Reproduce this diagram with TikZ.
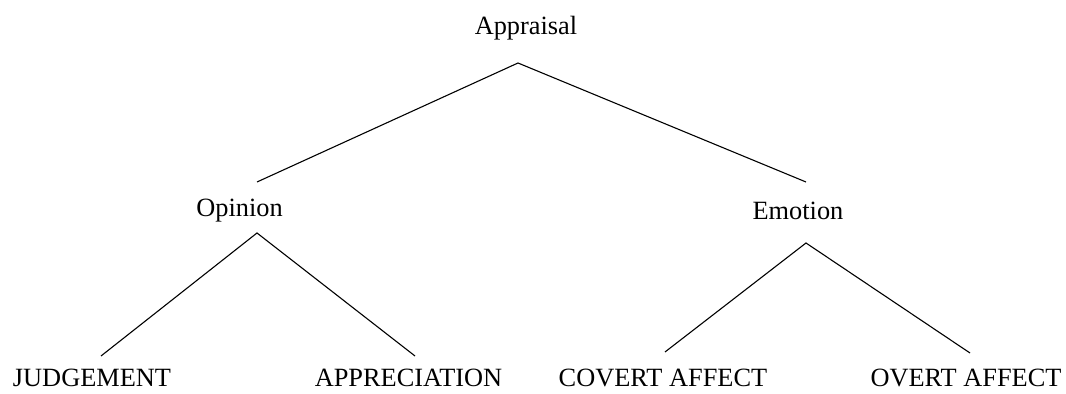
\documentclass[tikz,border=0pt]{standalone}
\usepackage{fontspec}
\setmainfont{Liberation Serif}

\begin{document}
\begin{tikzpicture}[x=0.016cm, y=-0.016cm, line width=0.5pt,
    label/.style={anchor=base, inner sep=0pt, font=\fontsize{12}{14}\selectfont}]
    \useasboundingbox (0,0) rectangle (1066,394);

    % Labels
    \node[label] (appraisal) at (526,35) {Appraisal};
    \node[label] (opinion) at (239.5,217) {Opinion};
    \node[label] (emotion) at (798,220) {Emotion};
    \node[label] (judgement) at (92,387) {JUDGEMENT};
    \node[label] (appreciation) at (408.5,387) {APPRECIATION};
    \node[label] (covert) at (663,387) {COVERT AFFECT};
    \node[label] (overt) at (966,387) {OVERT AFFECT};

    % Ends of the branches
    \coordinate (appraisal-b) at (518,63);
    \coordinate (opinion-t) at (257,182);
    \coordinate (emotion-t) at (806,182);
    \coordinate (opinion-b) at (257,233);
    \coordinate (emotion-b) at (806,243);
    \coordinate (judgement-t) at (101,356);
    \coordinate (appreciation-t) at (415,356);
    \coordinate (covert-t) at (665,352);
    \coordinate (overt-t) at (970,353);

    % Branches
    \draw (opinion-t) -- (appraisal-b) -- (emotion-t);
    \draw (judgement-t) -- (opinion-b) -- (appreciation-t);
    \draw (covert-t) -- (emotion-b) -- (overt-t);
\end{tikzpicture}
\end{document}
